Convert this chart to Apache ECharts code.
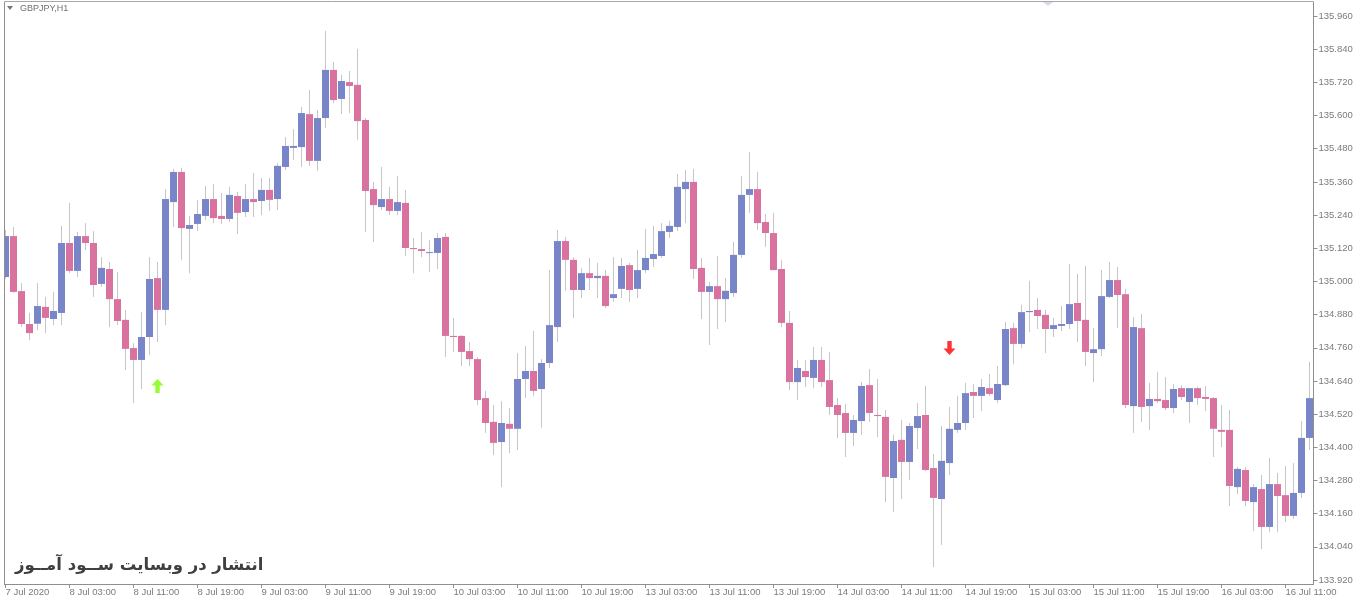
<!DOCTYPE html>
<html><head><meta charset="utf-8">
<script src="https://cdn.jsdelivr.net/npm/echarts@6/dist/echarts.min.js"></script>
<style>html,body{margin:0;padding:0;background:#fff}#c{width:1360px;height:604px}</style>
</head><body><div id="c"></div>
<script>
// ---- data (GBPJPY, H1, from 7 Jul 2020 19:00) ----
const opens = [
135.016,135.164,134.965,134.846,134.847,134.908,134.864,134.886,135.139,135.038,
135.164,135.139,134.991,135.045,134.936,134.861,134.759,134.716,134.799,135.012,
134.897,135.287,135.396,135.190,135.208,135.237,135.298,135.237,135.226,135.309,
135.251,135.298,135.291,135.331,135.298,135.414,135.483,135.486,135.605,135.436,
135.591,135.765,135.660,135.721,135.711,135.584,135.334,135.269,135.298,135.255,
135.284,135.121,135.117,135.103,135.103,135.161,134.803,134.803,134.748,134.719,
134.578,134.492,134.419,134.485,134.467,134.647,134.676,134.611,134.705,134.835,
135.146,135.078,134.969,135.030,135.012,135.020,134.940,134.973,135.059,134.973,
135.041,135.081,135.092,135.179,135.197,135.334,135.360,135.049,134.962,134.983,
134.936,134.958,135.096,135.313,135.334,135.215,135.175,135.045,134.850,134.636,
134.676,134.651,134.716,134.643,134.553,134.524,134.452,134.495,134.625,134.517,
134.510,134.289,134.427,134.347,134.470,134.517,134.325,134.213,134.343,134.463,
134.488,134.600,134.586,134.614,134.571,134.625,134.831,134.774,134.889,134.897,
134.879,134.828,134.839,134.846,134.922,134.861,134.741,134.755,134.944,135.005,
134.954,134.549,134.831,134.549,134.575,134.571,134.542,134.614,134.564,134.614,
134.582,134.578,134.463,134.463,134.256,134.318,134.202,134.249,134.112,134.267,
134.227,134.152,134.235,134.434];
const highs = [
135.186,135.197,134.994,134.886,134.994,134.944,134.962,135.201,135.284,135.179,
135.211,135.182,135.088,135.070,135.034,134.897,134.777,134.889,135.088,135.070,
135.334,135.407,135.410,135.237,135.295,135.345,135.352,135.320,135.342,135.324,
135.352,135.392,135.374,135.374,135.428,135.522,135.551,135.631,135.692,135.620,
135.906,135.794,135.747,135.761,135.841,135.591,135.360,135.414,135.342,135.381,
135.331,135.157,135.179,135.150,135.175,135.175,134.868,134.805,134.781,134.726,
134.604,134.553,134.567,134.542,134.741,134.766,134.821,134.719,135.041,135.186,
135.161,135.088,135.048,135.085,135.067,135.041,135.088,135.085,135.067,135.114,
135.190,135.201,135.211,135.219,135.389,135.403,135.407,135.085,134.998,135.092,
135.012,135.143,135.381,135.468,135.396,135.244,135.248,135.078,134.893,134.716,
134.716,134.763,134.763,134.745,134.578,134.557,134.517,134.636,134.683,134.647,
134.535,134.445,134.499,134.488,134.560,134.622,134.376,134.477,134.546,134.586,
134.633,134.629,134.647,134.665,134.694,134.853,134.850,134.915,135.002,134.940,
134.897,134.868,134.911,135.063,135.027,135.056,134.831,135.041,135.070,135.052,
134.973,134.871,134.882,134.633,134.672,134.654,134.629,134.625,134.614,134.618,
134.622,134.582,134.553,134.535,134.329,134.329,134.267,134.300,134.361,134.307,
134.332,134.343,134.495,134.709];
const lows = [
135.009,134.959,134.835,134.788,134.824,134.813,134.842,134.842,135.030,135.016,
135.114,134.944,134.980,134.835,134.842,134.680,134.560,134.611,134.734,134.781,
134.842,135.197,135.078,135.030,135.182,135.222,135.211,135.208,135.215,135.172,
135.233,135.233,135.240,135.255,135.258,135.403,135.439,135.414,135.418,135.400,
135.555,135.645,135.606,135.609,135.512,135.179,135.143,135.258,135.240,135.240,
135.092,135.030,135.088,135.034,135.045,134.727,134.745,134.694,134.694,134.553,
134.452,134.372,134.256,134.379,134.390,134.578,134.586,134.471,134.687,134.781,
134.966,134.868,134.940,134.969,134.940,134.904,134.926,134.940,134.926,134.940,
135.030,135.052,135.085,135.157,135.182,135.211,135.009,134.864,134.770,134.828,
134.853,134.944,135.085,135.248,135.186,135.125,135.041,134.835,134.607,134.571,
134.618,134.614,134.618,134.517,134.433,134.365,134.405,134.445,134.492,134.437,
134.202,134.166,134.213,134.282,134.394,134.314,133.967,134.047,134.300,134.452,
134.463,134.506,134.531,134.586,134.560,134.622,134.701,134.759,134.817,134.828,
134.741,134.799,134.821,134.828,134.781,134.694,134.636,134.730,134.940,134.831,
134.542,134.452,134.492,134.463,134.560,134.535,134.524,134.571,134.488,134.553,
134.531,134.365,134.401,134.188,134.231,134.188,134.097,134.032,134.094,134.094,
134.130,134.141,134.217,134.390];
const closes = [
135.164,134.962,134.846,134.813,134.911,134.868,134.893,135.139,135.038,135.164,
135.139,134.987,135.049,134.936,134.857,134.756,134.716,134.799,135.009,134.897,
135.298,135.396,135.193,135.204,135.244,135.298,135.229,135.226,135.313,135.248,
135.298,135.287,135.331,135.295,135.418,135.490,135.490,135.609,135.436,135.591,
135.765,135.656,135.725,135.707,135.580,135.327,135.276,135.298,135.255,135.287,
135.121,135.117,135.110,135.106,135.157,134.803,134.799,134.745,134.719,134.571,
134.488,134.416,134.488,134.467,134.647,134.676,134.604,134.705,134.842,135.146,
135.078,134.969,135.030,135.012,135.020,134.911,134.954,135.056,134.969,135.041,
135.085,135.099,135.182,135.201,135.342,135.360,135.045,134.962,134.983,134.936,
134.966,135.096,135.313,135.334,135.211,135.175,135.041,134.850,134.636,134.687,
134.654,134.716,134.636,134.546,134.517,134.452,134.499,134.622,134.524,134.513,
134.293,134.423,134.347,134.477,134.513,134.318,134.217,134.351,134.467,134.488,
134.596,134.586,134.618,134.593,134.629,134.828,134.774,134.889,134.893,134.875,
134.828,134.842,134.846,134.918,134.857,134.745,134.755,134.947,135.005,134.951,
134.553,134.835,134.546,134.575,134.567,134.542,134.611,134.582,134.614,134.578,
134.575,134.467,134.456,134.260,134.322,134.206,134.256,134.112,134.267,134.224,
134.152,134.235,134.434,134.578];
const xTickLabels = ['7 Jul 2020','8 Jul 03:00','8 Jul 11:00','8 Jul 19:00','9 Jul 03:00','9 Jul 11:00',
  '9 Jul 19:00','10 Jul 03:00','10 Jul 11:00','10 Jul 19:00','13 Jul 03:00','13 Jul 11:00','13 Jul 19:00',
  '14 Jul 03:00','14 Jul 11:00','14 Jul 19:00','15 Jul 03:00','15 Jul 11:00','15 Jul 19:00','16 Jul 03:00','16 Jul 11:00'];
const yTickValues = [133.920,134.040,134.160,134.280,134.400,134.520,134.640,134.760,134.880,135.000,
  135.120,135.240,135.360,135.480,135.600,135.720,135.840,135.960];
const buyArrow = [[19, 134.622]];
const sellArrow = [[118, 134.759]];
const symbolName = 'GBPJPY,H1';
const watermark = 'انتشار در وبسایت ســود آمــوز';

// ---- build ----
const BARS_PER_LABEL = 8;
const categories = opens.map((_, i) => 'bar' + i);
const candleData = opens.map((o, i) => [i, o, closes[i], lows[i], highs[i]]);
const BLUE = '#7886c9', PINK = '#d9729f', WICK = '#c6c6c6', AXIS = '#8f8f8f', TXT = '#7b7b7b';

function renderCandle(params, api) {
  const i = api.value(0), o = api.value(1), c = api.value(2), l = api.value(3), h = api.value(4);
  const pO = api.coord([i, o]), pC = api.coord([i, c]), pH = api.coord([i, h]), pL = api.coord([i, l]);
  const band = api.size([1, 0])[0];
  const bw = Math.round(band * 0.875);
  const cx = Math.floor(pO[0]) + 0.5;
  const x = Math.round(pO[0] - bw / 2);
  const top = Math.min(pO[1], pC[1]), bot = Math.max(pO[1], pC[1]);
  const hh = Math.max(1, bot - top);
  return { type: 'group', children: [
    { type: 'line', shape: { x1: cx, y1: pH[1], x2: cx, y2: pL[1] }, style: { stroke: WICK, lineWidth: 1 } },
    { type: 'rect', shape: { x: x, y: top, width: bw, height: hh }, style: { fill: c >= o ? BLUE : PINK } }
  ]};
}

const chart = echarts.init(document.getElementById('c'), null, { renderer: 'canvas' });
chart.setOption({
  animation: false,
  backgroundColor: '#ffffff',
  grid: { left: 1.5, top: 2, width: 1312, height: 582, containLabel: false },
  xAxis: {
    type: 'category', data: categories, boundaryGap: true,
    axisLine: { show: true, lineStyle: { color: AXIS } },
    axisTick: { show: true, alignWithLabel: true, interval: BARS_PER_LABEL - 1, length: 4, lineStyle: { color: AXIS } },
    axisLabel: { interval: BARS_PER_LABEL - 1, align: 'left', margin: 3, color: TXT, fontSize: 9.5,
      fontFamily: 'Liberation Sans', formatter: (v, idx) => xTickLabels[Math.round(idx / BARS_PER_LABEL)] || '' },
    splitLine: { show: false }
  },
  yAxis: {
    type: 'value', position: 'right', min: 133.9056, max: 136.0107, scale: true,
    axisLine: { show: true, lineStyle: { color: AXIS } },
    axisTick: { show: true, length: 4, customValues: yTickValues, lineStyle: { color: AXIS } },
    axisLabel: { customValues: yTickValues, formatter: v => v.toFixed(3), color: TXT, fontSize: 9.5,
      fontFamily: 'Liberation Sans', margin: 5 },
    splitLine: { show: false }
  },
  series: [
    { type: 'custom', renderItem: renderCandle, data: candleData, clip: true,
      encode: { x: 0, y: [1, 2, 3, 4] } },
    { type: 'scatter', data: buyArrow, symbol: 'path://M6,0 L12,6.5 L8.2,6.5 L8.2,14 L3.8,14 L3.8,6.5 L0,6.5 Z',
      symbolSize: [12, 14], itemStyle: { color: '#7cfc00' }, z: 5 },
    { type: 'scatter', data: sellArrow, symbol: 'path://M3.8,0 L8.2,0 L8.2,7.5 L12,7.5 L6,14 L0,7.5 L3.8,7.5 Z',
      symbolSize: [12, 14], itemStyle: { color: '#ff0000' }, z: 5 }
  ],
  graphic: [
    { type: 'rect', shape: { x: 0, y: 0, width: 4, height: 604 }, style: { fill: '#fff' }, z: 100 },
    { type: 'line', shape: { x1: 4.5, y1: 1.5, x2: 4.5, y2: 584 }, style: { stroke: AXIS, lineWidth: 1 }, z: 101 },
    { type: 'line', shape: { x1: 4.5, y1: 1.5, x2: 1313.5, y2: 1.5 }, style: { stroke: '#a8a8a8', lineWidth: 1 }, z: 101 },
    { type: 'polygon', shape: { points: [[7, 6], [13, 6], [10, 10]] }, style: { fill: '#777' }, z: 101 },
    { type: 'text', x: 20, y: 9, style: { text: symbolName, fill: '#707070', font: '9px "Liberation Sans"', verticalAlign: 'middle' }, z: 101 },
    { type: 'polygon', shape: { points: [[1043, 2], [1053, 2], [1048, 6]] }, style: { fill: '#d7dce9' }, z: 101 },
    { type: 'text', x: 15, y: 566, style: { text: watermark, fill: '#3f3f3f', font: 'bold 16.5px "DejaVu Sans"', verticalAlign: 'middle' }, z: 101 }
  ]
});
</script></body></html>
